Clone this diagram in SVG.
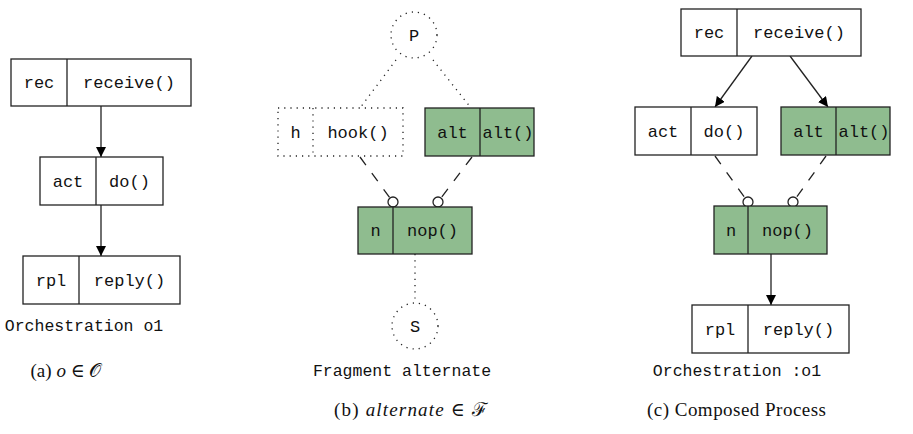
<svg xmlns="http://www.w3.org/2000/svg" width="913" height="434" viewBox="0 0 913 434">
<defs>
<marker id="arr" viewBox="0 0 10 10" refX="10" refY="5" markerWidth="10" markerHeight="10" markerUnits="userSpaceOnUse" orient="auto">
<path d="M0,0 L10,5 L0,10 z" fill="#000"/>
</marker>
</defs>
<style>
.b{fill:#fff;stroke:#222;stroke-width:1.3}
.g{fill:#8fbc8f;stroke:#222;stroke-width:1.3}
.d{fill:none;stroke:#222;stroke-width:1.3;stroke-dasharray:1.2 5}
.dv{stroke:#222;stroke-width:1.3}
.t{font-family:"Liberation Mono",monospace;font-size:17px;fill:#111;text-anchor:middle}
.m{font-family:"Liberation Mono",monospace;font-size:16.5px;fill:#111;text-anchor:middle}
.c{font-family:"Liberation Serif","DejaVu Serif",serif;font-size:19px;fill:#111;text-anchor:middle}
.a{fill:none;stroke:#222;stroke-width:1.3;marker-end:url(#arr)}
.dash{fill:none;stroke:#222;stroke-width:1.3;stroke-dasharray:10 10}
.o{fill:#fff;stroke:#222;stroke-width:1.3}
</style>
<rect width="913" height="434" fill="#fff"/>

<g id="connectors">
<line class="a" x1="101" y1="106" x2="101" y2="157"/>
<line class="a" x1="101" y1="205" x2="101" y2="256"/>
<line class="d" x1="396" y1="60" x2="360" y2="108"/>
<line class="d" x1="433" y1="60" x2="471" y2="108"/>
<line class="dash" x1="360" y1="157" x2="390" y2="198"/>
<circle class="o" cx="393" cy="202" r="5"/>
<line class="dash" x1="472" y1="157" x2="441" y2="198"/>
<circle class="o" cx="438" cy="202" r="5"/>
<line class="d" x1="415" y1="254" x2="415" y2="303"/>
<line class="a" x1="752" y1="56" x2="715" y2="107"/>
<line class="a" x1="790" y1="56" x2="828" y2="107"/>
<line class="dash" x1="715" y1="156" x2="745" y2="198"/>
<circle class="o" cx="748" cy="202" r="5"/>
<line class="dash" x1="826" y1="156" x2="796" y2="198"/>
<circle class="o" cx="793" cy="202" r="5"/>
<line class="a" x1="771" y1="254" x2="771" y2="305"/>
</g>

<g id="a-rec">
<rect class="b" x="11" y="59" width="180" height="47"/>
<line class="dv" x1="67" y1="59" x2="67" y2="106"/>
<text class="t" x="39" y="88">rec</text>
<text class="t" x="129" y="88">receive()</text>
</g>
<g id="a-act">
<rect class="b" x="40" y="157" width="123" height="48"/>
<line class="dv" x1="96" y1="157" x2="96" y2="205"/>
<text class="t" x="68" y="187">act</text>
<text class="t" x="129.5" y="187">do()</text>
</g>
<g id="a-rpl">
<rect class="b" x="23" y="256" width="157" height="48"/>
<line class="dv" x1="79" y1="256" x2="79" y2="304"/>
<text class="t" x="51" y="286">rpl</text>
<text class="t" x="129.5" y="286">reply()</text>
</g>
<g id="a-caption">
<text class="m" x="84" y="331">Orchestration o1</text>
<text class="c" x="66" y="377">(a) <tspan font-style="italic">o</tspan> ∈ 𝒪</text>
</g>

<g id="b-P">
<circle class="d" cx="414" cy="35" r="23"/>
<text class="t" x="414" y="41">P</text>
</g>
<g id="b-hook">
<rect class="d" x="278" y="108" width="125" height="48"/>
<line class="d" x1="313" y1="108" x2="313" y2="156"/>
<text class="t" x="295.5" y="138">h</text>
<text class="t" x="358" y="138">hook()</text>
</g>
<g id="b-alt">
<rect class="g" x="425" y="108" width="109" height="48"/>
<line class="dv" x1="480" y1="108" x2="480" y2="156"/>
<text class="t" x="452.5" y="138">alt</text>
<text class="t" x="508" y="138">alt()</text>
</g>
<g id="b-nop">
<rect class="g" x="358" y="207" width="114" height="47"/>
<line class="dv" x1="393" y1="207" x2="393" y2="254"/>
<text class="t" x="375.5" y="236">n</text>
<text class="t" x="432.5" y="236">nop()</text>
</g>
<g id="b-S">
<circle class="d" cx="415" cy="326" r="23"/>
<text class="t" x="415" y="332">S</text>
</g>
<g id="b-caption">
<text class="m" x="402" y="376">Fragment alternate</text>
<text class="c" x="411" y="416" textLength="154">(b) <tspan font-style="italic">alternate</tspan> ∈ ℱ</text>
</g>

<g id="c-rec">
<rect class="b" x="681" y="9" width="180" height="47"/>
<line class="dv" x1="737" y1="9" x2="737" y2="56"/>
<text class="t" x="709" y="38">rec</text>
<text class="t" x="799" y="38">receive()</text>
</g>
<g id="c-act">
<rect class="b" x="635" y="107" width="122" height="48"/>
<line class="dv" x1="691" y1="107" x2="691" y2="155"/>
<text class="t" x="663" y="137">act</text>
<text class="t" x="724" y="137">do()</text>
</g>
<g id="c-alt">
<rect class="g" x="781" y="107" width="109" height="48"/>
<line class="dv" x1="836" y1="107" x2="836" y2="155"/>
<text class="t" x="808.5" y="137">alt</text>
<text class="t" x="864" y="137">alt()</text>
</g>
<g id="c-nop">
<rect class="g" x="714" y="206" width="113" height="48"/>
<line class="dv" x1="748" y1="206" x2="748" y2="254"/>
<text class="t" x="731" y="236">n</text>
<text class="t" x="787.5" y="236">nop()</text>
</g>
<g id="c-rpl">
<rect class="b" x="692" y="305" width="157" height="48"/>
<line class="dv" x1="748" y1="305" x2="748" y2="353"/>
<text class="t" x="720" y="335">rpl</text>
<text class="t" x="798.5" y="335">reply()</text>
</g>
<g id="c-caption">
<text class="m" x="737" y="376">Orchestration :o1</text>
<text class="c" x="736.5" y="416" textLength="179">(c) Composed Process</text>
</g>
</svg>
